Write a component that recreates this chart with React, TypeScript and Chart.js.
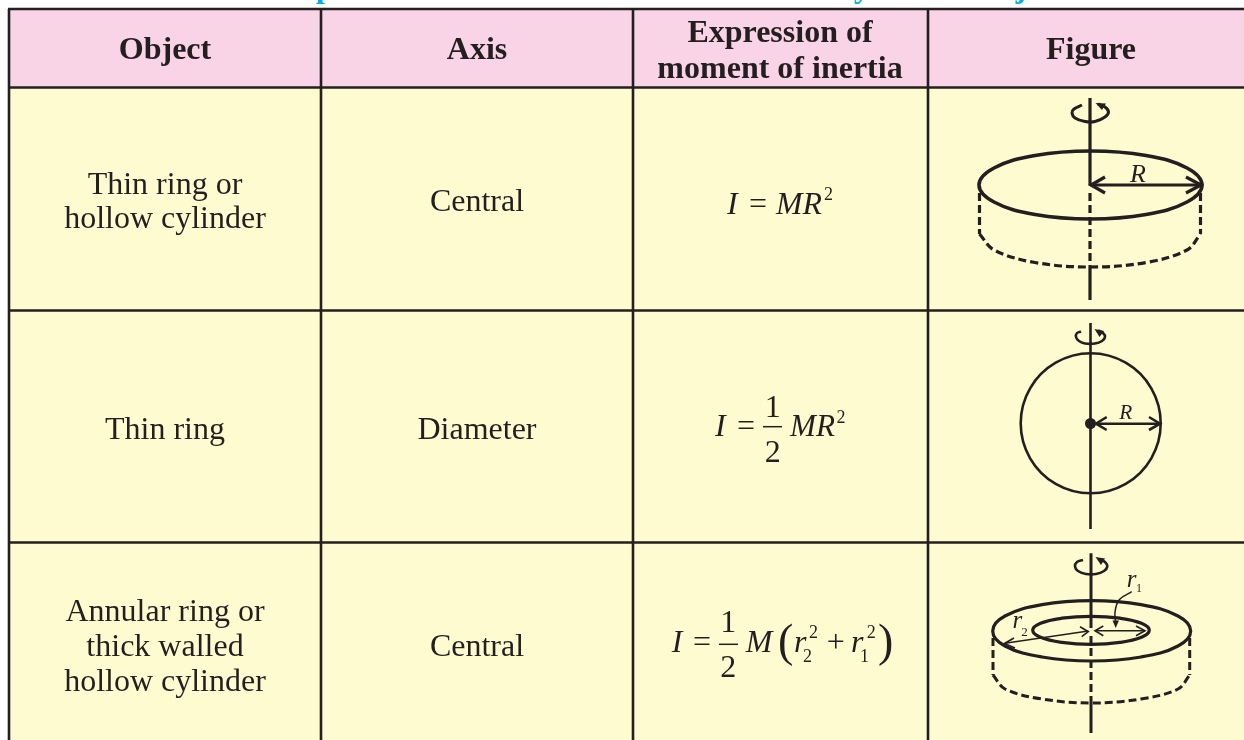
import React, { useEffect, useRef } from "react";
import { Chart, registerables } from "chart.js";

Chart.register(...registerables);

type P = [number, number];

// ---- Table content ----
const headers = ["Object", "Axis", ["Expression of", "moment of inertia"], "Figure"];
const objects = [["Thin ring or", "hollow cylinder"], ["Thin ring"], ["Annular ring or", "thick walled", "hollow cylinder"]];
const axes = ["Central", "Diameter", "Central"];
const clippedTitleLetters = ["p", "y", "j"];

// ---- Table grid ----
const columnEdges = [9, 321, 633, 928, 1244];
const rowEdges = [9, 87.5, 310.5, 542.5, 740];

// ---- Figure 1: thin ring or hollow cylinder ----
const ring1Axis: P[] = [[1090, 98], [1090, 185]];
const ring1AxisLow: P[] = [[1090, 267], [1090, 300]];
const ring1AxisDash: P[] = [[1090, 193], [1090, 267]];
const ring1Rim: P[] = [[1187, 168], [1202, 185], [1187, 202], [1146, 214.5], [1090.5, 219], [1035, 214.5], [994, 202], [979, 185], [994, 168], [1035, 155.5], [1090.5, 151], [1146, 155.5], [1187, 168], [1202, 185], [1187, 202]];
const ring1LeftEdge: P[] = [[979.5, 193], [979.5, 234]];
const ring1RightEdge: P[] = [[1200.5, 193], [1200.5, 234]];
const ring1Base: P[] = [[979.5, 234], [994, 250], [1035, 262.5], [1090.5, 267], [1146, 262.5], [1187, 250], [1200.5, 234]];
const ring1Radius: P[] = [[1090, 185], [1201, 185]];
const ring1HeadL: P[] = [[1105, 177], [1091, 185], [1105, 193]];
const ring1HeadR: P[] = [[1186, 177], [1201, 185], [1186, 193]];
const ring1Spin: P[] = [[1082, 105], [1074, 109], [1072, 113], [1075, 118], [1085, 121.5], [1095, 121.5], [1105, 117], [1108.5, 112], [1105, 107], [1098, 104]];
const ring1SpinHead: P[] = [[1095.5, 103], [1106, 103.5], [1102, 110], [1095.5, 103]];

// ---- Figure 2: thin ring about a diameter ----
const ring2Axis: P[] = [[1090.5, 323], [1090.5, 529]];
const ring2Circle: P[] = [[1151.3, 388.3], [1160.7, 423.3], [1151.3, 458.3], [1125.7, 483.9], [1090.7, 493.3], [1055.7, 483.9], [1030.1, 458.3], [1020.7, 423.3], [1030.1, 388.3], [1055.7, 362.7], [1090.7, 353.3], [1125.7, 362.7], [1151.3, 388.3], [1160.7, 423.3], [1151.3, 458.3]];
const ring2Centre: P[] = [[1090.5, 423.5]];
const ring2Radius: P[] = [[1096, 423.7], [1160, 423.7]];
const ring2HeadL: P[] = [[1106.7, 417], [1096, 423.7], [1106.7, 430]];
const ring2HeadR: P[] = [[1149, 417], [1160, 423.7], [1149, 430]];
const ring2Spin: P[] = [[1081, 331.5], [1077, 333], [1076, 337], [1079, 341], [1085, 343.5], [1095, 343.5], [1102, 341], [1105, 337], [1103, 333], [1098, 330.5]];
const ring2SpinHead: P[] = [[1094.5, 329], [1104, 331], [1099.5, 337], [1094.5, 329]];

// ---- Figure 3: annular ring ----
const ring3Axis: P[] = [[1091, 553.3], [1091, 628]];
const ring3AxisLow: P[] = [[1091, 703], [1091, 733]];
const ring3AxisDash: P[] = [[1091, 636], [1091, 703]];
const ring3Outer: P[] = [[1178, 616], [1190.7, 631], [1178, 646], [1141, 657], [1091.7, 661], [1042, 657], [1005, 646], [992.7, 631], [1005, 616], [1042, 604.7], [1091.7, 600.7], [1141, 604.7], [1178, 616], [1190.7, 631], [1178, 646]];
const ring3Inner: P[] = [[1141.5, 623.3], [1149.3, 630.3], [1141.5, 637.3], [1120, 642.4], [1091, 644.3], [1062, 642.4], [1040.5, 637.3], [1032.7, 630.3], [1040.5, 623.3], [1062, 618.2], [1091, 616.3], [1120, 618.2], [1141.5, 623.3], [1149.3, 630.3], [1141.5, 637.3]];
const ring3LeftEdge: P[] = [[993, 638], [993, 675]];
const ring3RightEdge: P[] = [[1189.7, 638], [1189.7, 675]];
const ring3Base: P[] = [[993, 675], [1005, 689], [1042, 699], [1091.5, 703], [1141, 699], [1178, 689], [1189.7, 675]];
const ring3R2: P[] = [[1005, 643.3], [1088.3, 631]];
const ring3R2HeadL: P[] = [[1014, 638], [1004.5, 643.5], [1015, 648]];
const ring3R2HeadR: P[] = [[1080, 626.7], [1088.3, 631.7], [1081.7, 636.7]];
const ring3R1: P[] = [[1095, 630.7], [1145, 630.7]];
const ring3R1HeadL: P[] = [[1103.3, 626], [1095, 630.7], [1103.3, 635.7]];
const ring3R1HeadR: P[] = [[1136, 626], [1145, 630.7], [1136, 635.7]];
const ring3Pointer: P[] = [[1131.7, 591.7], [1119, 600], [1115, 612], [1115.7, 624]];
const ring3PointerHead: P[] = [[1112.5, 620.5], [1119, 620.5], [1115.7, 628], [1112.5, 620.5]];
const ring3Spin: P[] = [[1083, 560], [1077, 562], [1075, 566.5], [1078, 571], [1086, 574], [1096, 574], [1104, 571], [1107.3, 566.5], [1105, 562], [1100, 559.5]];
const ring3SpinHead: P[] = [[1095.5, 557], [1105, 558.5], [1101, 565], [1095.5, 557]];

// ---- Fraction bars ----
const fractionBarA: P[] = [[763, 426.7], [782, 426.7]];
const fractionBarB: P[] = [[719, 644.3], [738, 644.3]];

const INK = "#231f20";
const PINK = "#f9d3e6";
const CREAM = "#fffbd0";
const CYAN = "#00aeef";
const SERIF = '"Liberation Serif"';

const pts = (p: P[]) => p.map(([x, y]) => ({ x, y }));

const stroke = (p: P[], width: number, extra: Record<string, unknown> = {}) => ({
  data: pts(p),
  showLine: true,
  borderColor: INK,
  borderWidth: width,
  pointRadius: 0,
  fill: false,
  ...extra,
});
const curve = (p: P[], width: number, extra: Record<string, unknown> = {}) => stroke(p, width, { tension: 0.36, ...extra });
// A closed loop: its first and last segment only exist to give the ends the right tangent, and are not drawn.
const loop = (p: P[], width: number, tension = 0.4) =>
  stroke(p, width, {
    tension,
    borderCapStyle: "round",
    segment: {
      borderColor: (ctx: any) => (ctx.p0DataIndex === 0 || ctx.p1DataIndex === p.length - 1 ? "transparent" : undefined),
    },
  });
const solidShape = (p: P[], color: string) => ({
  data: pts(p),
  showLine: true,
  borderColor: color,
  borderWidth: 0,
  backgroundColor: color,
  pointRadius: 0,
  fill: "shape",
});
const rect = (l: number, t: number, r: number, b: number): P[] => [[l, t], [r, t], [r, b], [l, b], [l, t]];

type Piece = [string, number, number, string, "left" | "center", number?, string?];

function textPieces(): Piece[] {
  const center = (i: number) => (columnEdges[i] + columnEdges[i + 1]) / 2;
  const out: Piece[] = [];
  const bold = `bold 32px ${SERIF}`;
  const reg = `32px ${SERIF}`;
  const ital = `italic 32px ${SERIF}`;
  const headBase = [59, 59, null, 59];
  const headX = [165, 477, 780, 1091];
  headers.forEach((h, i) => {
    if (Array.isArray(h)) {
      h.forEach((line, j) => out.push([line, headX[i], 42 + j * 36, bold, "center"]));
    } else out.push([h, headX[i], headBase[i] as number, bold, "center"]);
  });
  const objBase = [[194, 228], [439], [621, 656, 691]];
  objects.forEach((lines, r) => lines.forEach((l, j) => out.push([l, center(0), objBase[r][j], reg, "center"])));
  const axisBase = [211, 439, 656];
  axes.forEach((a, r) => out.push([a, center(1), axisBase[r], reg, "center"]));

  const titleX = [325, 862, 1021];
  clippedTitleLetters.forEach((l, i) => out.push([l, titleX[i], -3, bold, "center", undefined, CYAN]));

  // formula row 1: I = MR^2
  out.push(["I", 727, 214, ital, "left"], ["=", 749, 214, reg, "left"], ["MR", 776, 214, ital, "left", 46], ["2", 824, 200, `18px ${SERIF}`, "left"]);
  // formula row 2: I = 1/2 MR^2
  out.push(["I", 715, 436, ital, "left"], ["=", 737, 436, reg, "left"], ["1", 772.7, 417, reg, "center"], ["2", 772.7, 461.7, reg, "center"], ["MR", 790, 436, ital, "left", 45], ["2", 836.5, 422.7, `18px ${SERIF}`, "left"]);
  // formula row 3: I = 1/2 M (r2^2 + r1^2)
  out.push(
    ["I", 671.7, 652.3, ital, "left"], ["=", 693, 652.3, reg, "left"], ["1", 728.3, 632, reg, "center"], ["2", 728.3, 677, reg, "center"],
    ["M", 745.7, 652.3, ital, "left", 30], ["(", 778, 656, `46px ${SERIF}`, "left"],
    ["r", 794, 652.3, ital, "left"], ["2", 809, 638, `18px ${SERIF}`, "left"], ["2", 803, 662, `18px ${SERIF}`, "left"],
    ["+", 826.7, 652.3, reg, "left"],
    ["r", 851, 652.3, ital, "left"], ["2", 866.7, 638, `18px ${SERIF}`, "left"], ["1", 860, 662, `18px ${SERIF}`, "left"],
    [")", 878, 656, `46px ${SERIF}`, "left"],
  );
  // figure labels
  out.push(["R", 1138, 182, `italic 26px ${SERIF}`, "center"], ["R", 1125.7, 418.7, `italic 22px ${SERIF}`, "center", 13]);
  out.push(["r", 1131.7, 586.7, `italic 25px ${SERIF}`, "center"], ["1", 1139, 591.7, `12px ${SERIF}`, "center"]);
  out.push(["r", 1017.3, 628, `italic 25px ${SERIF}`, "center"], ["2", 1024.5, 635.7, `13px ${SERIF}`, "center"]);
  return out;
}

const textLayer = {
  id: "tableText",
  afterDatasetsDraw(chart: any) {
    const { ctx, scales } = chart;
    ctx.save();
    ctx.textBaseline = "alphabetic";
    textPieces().forEach(([t, x, y, font, align, maxW, color]) => {
      ctx.font = font;
      ctx.textAlign = align;
      ctx.fillStyle = color || INK;
      const px = scales.x.getPixelForValue(x);
      const py = scales.y.getPixelForValue(y);
      if (maxW) ctx.fillText(t, px, py, maxW);
      else ctx.fillText(t, px, py);
    });
    ctx.restore();
  },
};

export default function App() {
  const ref = useRef<HTMLCanvasElement>(null);
  useEffect(() => {
    document.body.style.margin = "0";
    document.body.style.background = "#fff";
    const [c0, c1, c2, c3, c4] = columnEdges;
    const [r0, r1, r2, r3, r4] = rowEdges;
    const dash = { borderDash: [8, 4] };
    const gridW = 2.6;
    // Listed bottom to top; Chart.js paints the last dataset first, so the list is reversed.
    const datasets: any[] = [
      solidShape(rect(c0, r0, c4, r1), PINK),
      solidShape(rect(c0, r1, c4, r4), CREAM),
      ...rowEdges.slice(0, 4).map((y) => stroke([[c0 - 1, y], [c4, y]], gridW)),
      ...[c0, c1, c2, c3].map((x) => stroke([[x, r0], [x, r4]], gridW)),

      stroke(ring1Axis, 3.2), stroke(ring1AxisLow, 3.2), stroke(ring1AxisDash, 3.2, dash),
      loop(ring1Rim, 3.6), stroke(ring1LeftEdge, 3.2, dash), stroke(ring1RightEdge, 3.2, dash), curve(ring1Base, 3.2, dash),
      stroke(ring1Radius, 3.2), stroke(ring1HeadL, 3.2), stroke(ring1HeadR, 3.2),
      curve(ring1Spin, 3), solidShape(ring1SpinHead, INK),

      stroke(ring2Axis, 2.6), loop(ring2Circle, 2.6, 0.36),
      { data: pts(ring2Centre), showLine: false, pointRadius: 5.5, pointBackgroundColor: INK, pointBorderWidth: 0 },
      stroke(ring2Radius, 2.6), stroke(ring2HeadL, 2.6), stroke(ring2HeadR, 2.6),
      curve(ring2Spin, 2.6), solidShape(ring2SpinHead, INK),

      stroke(ring3Axis, 3), stroke(ring3AxisLow, 3), stroke(ring3AxisDash, 3, dash),
      loop(ring3Outer, 3.2), loop(ring3Inner, 3.2), stroke(ring3LeftEdge, 3, dash), stroke(ring3RightEdge, 3, dash), curve(ring3Base, 3, dash),
      stroke(ring3R2, 1.6), stroke(ring3R2HeadL, 1.6), stroke(ring3R2HeadR, 1.6),
      stroke(ring3R1, 1.6), stroke(ring3R1HeadL, 1.6), stroke(ring3R1HeadR, 1.6),
      curve(ring3Pointer, 1.5), solidShape(ring3PointerHead, INK),
      curve(ring3Spin, 2.6), solidShape(ring3SpinHead, INK),

      stroke(fractionBarA, 1.5), stroke(fractionBarB, 1.5),
    ].reverse();
    const chart = new Chart(ref.current as HTMLCanvasElement, {
      type: "scatter",
      data: { datasets },
      options: {
        animation: false,
        responsive: false,
        devicePixelRatio: 1,
        layout: { padding: 0, autoPadding: false },
        events: [],
        plugins: { legend: { display: false }, tooltip: { enabled: false } },
        scales: {
          x: { type: "linear", min: 0, max: 1244, display: false },
          y: { type: "linear", min: 0, max: 740, reverse: true, display: false },
        },
      },
      plugins: [textLayer],
    } as any);
    return () => chart.destroy();
  }, []);
  return <canvas ref={ref} width={1244} height={740} style={{ display: "block" }} />;
}
